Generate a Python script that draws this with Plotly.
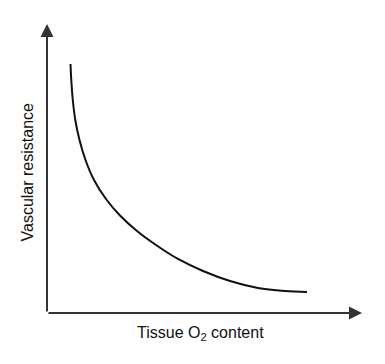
import plotly.graph_objects as go

# Schematic curve values (arbitrary units, 0-100 on each axis)
tissue_o2 = [7.46, 7.71, 8.19, 8.98, 10.32, 12.22, 14.92, 18.73, 23.17, 28.57, 34.60,
             41.59, 49.52, 58.10, 66.98, 75.56, 82.54]
vascular_resistance = [86.16, 80.62, 73.70, 66.78, 59.86, 52.94, 46.02, 39.45, 33.74,
                       28.37, 23.53, 18.69, 14.53, 11.07, 8.65, 7.61, 7.27]
x_label = "Tissue O<sub>2</sub> content"
y_label = "Vascular resistance"

OFF = 8  # default body margin of the html page
W, H = 385 - OFF, 364 - OFF
L, R, T, B = 47 - OFF, 23, 24 - OFF, 51
pw, ph = W - L - R, H - T - B

fig = go.Figure()
fig.add_trace(go.Scatter(x=tissue_o2, y=vascular_resistance, mode="lines",
                         line=dict(color="#111111", width=2, shape="spline", smoothing=1.0),
                         hoverinfo="skip", showlegend=False))

axis_color = "#333333"
fig.add_annotation(x=0, y=100, ax=0, ay=0, xref="x", yref="y", axref="x", ayref="y",
                   showarrow=True, arrowhead=2, arrowsize=1.3, arrowwidth=2,
                   arrowcolor=axis_color, text="")
fig.add_annotation(x=100, y=0, ax=0, ay=0, xref="x", yref="y", axref="x", ayref="y",
                   showarrow=True, arrowhead=2, arrowsize=1.3, arrowwidth=2,
                   arrowcolor=axis_color, text="")

font = dict(family="Liberation Sans, Arial, sans-serif", size=16, color="#111111")
# positions given in page pixels
fig.add_annotation(text=x_label, xref="paper", yref="paper",
                   x=(200 - 47) / pw, y=(313 - 333) / ph,
                   xanchor="center", yanchor="middle", showarrow=False, font=font)
fig.add_annotation(text=y_label, xref="paper", yref="paper", textangle=-90,
                   x=(26.5 - 47) / pw, y=(313 - 172) / ph,
                   xanchor="center", yanchor="middle", showarrow=False, font=font)

fig.update_xaxes(range=[0, 100], visible=False, fixedrange=True)
fig.update_yaxes(range=[0, 100], visible=False, fixedrange=True)
fig.update_layout(width=W, height=H, margin=dict(l=L, r=R, t=T, b=B),
                  paper_bgcolor="white", plot_bgcolor="white")

fig.write_html("out.html", config={"displayModeBar": False})
